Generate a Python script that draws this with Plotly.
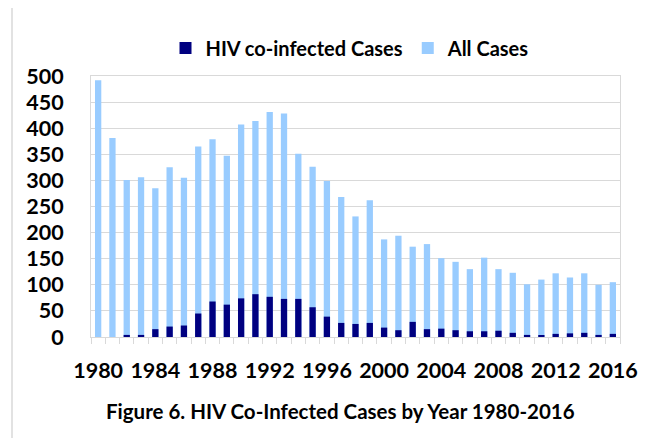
import plotly.graph_objects as go

years = list(range(1980, 2017))
all_cases = [492, 381, 301, 306, 285, 325, 305, 365, 379, 347,
             407, 414, 431, 428, 351, 326, 299, 268, 231, 262,
             187, 194, 173, 178, 151, 144, 130, 152, 130, 123,
             101, 110, 122, 114, 122, 100, 105]
hiv_cases = [0, 0, 4, 4, 15, 20, 22, 45, 68, 62,
             74, 82, 77, 73, 73, 57, 39, 27, 25, 27,
             18, 13, 29, 15, 16, 13, 11, 11, 12, 8,
             4, 2, 6, 7, 8, 4, 6]
x_tick_labels = [str(y) for y in range(1980, 2017, 4)]
y_ticks = list(range(0, 501, 50))

FONT = "Lato"
GRID = "#d9d9d9"
OFF = 8  # page body margin

fig = go.Figure()
fig.add_trace(go.Bar(x=years, y=all_cases, name="All Cases",
                     marker=dict(color="#99ccff", line=dict(width=0)),
                     width=0.44, legendrank=2))
fig.add_trace(go.Bar(x=years, y=hiv_cases, name="HIV co-infected Cases",
                     marker=dict(color="#000080", line=dict(width=0)),
                     width=0.44, legendrank=1))

fig.update_layout(
    width=652, height=438,
    margin=dict(l=91 - OFF, r=652 - (620 - OFF), t=76 - OFF, b=438 - (337 - OFF),
                autoexpand=False),
    barmode="overlay",
    plot_bgcolor="white", paper_bgcolor="white",
    font=dict(family=FONT, color="black"),
    legend=dict(orientation="h", xref="container", yref="container",
                x=(350 - OFF) / 652, xanchor="center", y=1 - (48 - OFF) / 438, yanchor="middle",
                font=dict(family=FONT, size=20, weight="bold"),
                itemwidth=30, tracegroupgap=0),
    xaxis=dict(range=[1979.5, 2016.5], tickmode="array",
               tickvals=[int(t) for t in x_tick_labels], ticktext=x_tick_labels,
               ticks="", showgrid=False, automargin=False,
               tickfont=dict(family=FONT, size=21.5, weight="bold"),
               ticklabelstandoff=14,
               showline=True, linecolor=GRID, linewidth=1, mirror=True,
               minor=dict(ticks="outside", tick0=1979.5, dtick=1, ticklen=6,
                          tickcolor=GRID, showgrid=False),
               fixedrange=True),
    yaxis=dict(range=[0, 500], tickmode="array", tickvals=y_ticks,
               showgrid=True, gridcolor=GRID, gridwidth=1,
               ticks="", zeroline=False, automargin=False,
               tickfont=dict(family=FONT, size=21.5, weight="bold"),
               ticklabelstandoff=22,
               showline=True, linecolor=GRID, linewidth=1, mirror=True,
               fixedrange=True),
    shapes=[dict(type="rect", xref="paper", yref="paper",
                 x0=(12 - 91) / 529, x1=(648 - 91) / 529,
                 y0=(337.3 - 445) / 261.3, y1=(337.3 - 5.5) / 261.3,
                 line=dict(color=GRID, width=1.5), layer="above")],
    annotations=[dict(text="Figure 6. HIV Co-Infected Cases by Year 1980-2016",
                      xref="paper", yref="paper", x=(340 - 91) / 529, y=(337.3 - 411) / 261.3,
                      xanchor="center", yanchor="middle", showarrow=False,
                      font=dict(family=FONT, size=20.5, weight="bold", color="black"))],
)

fig.write_html("out.html")
